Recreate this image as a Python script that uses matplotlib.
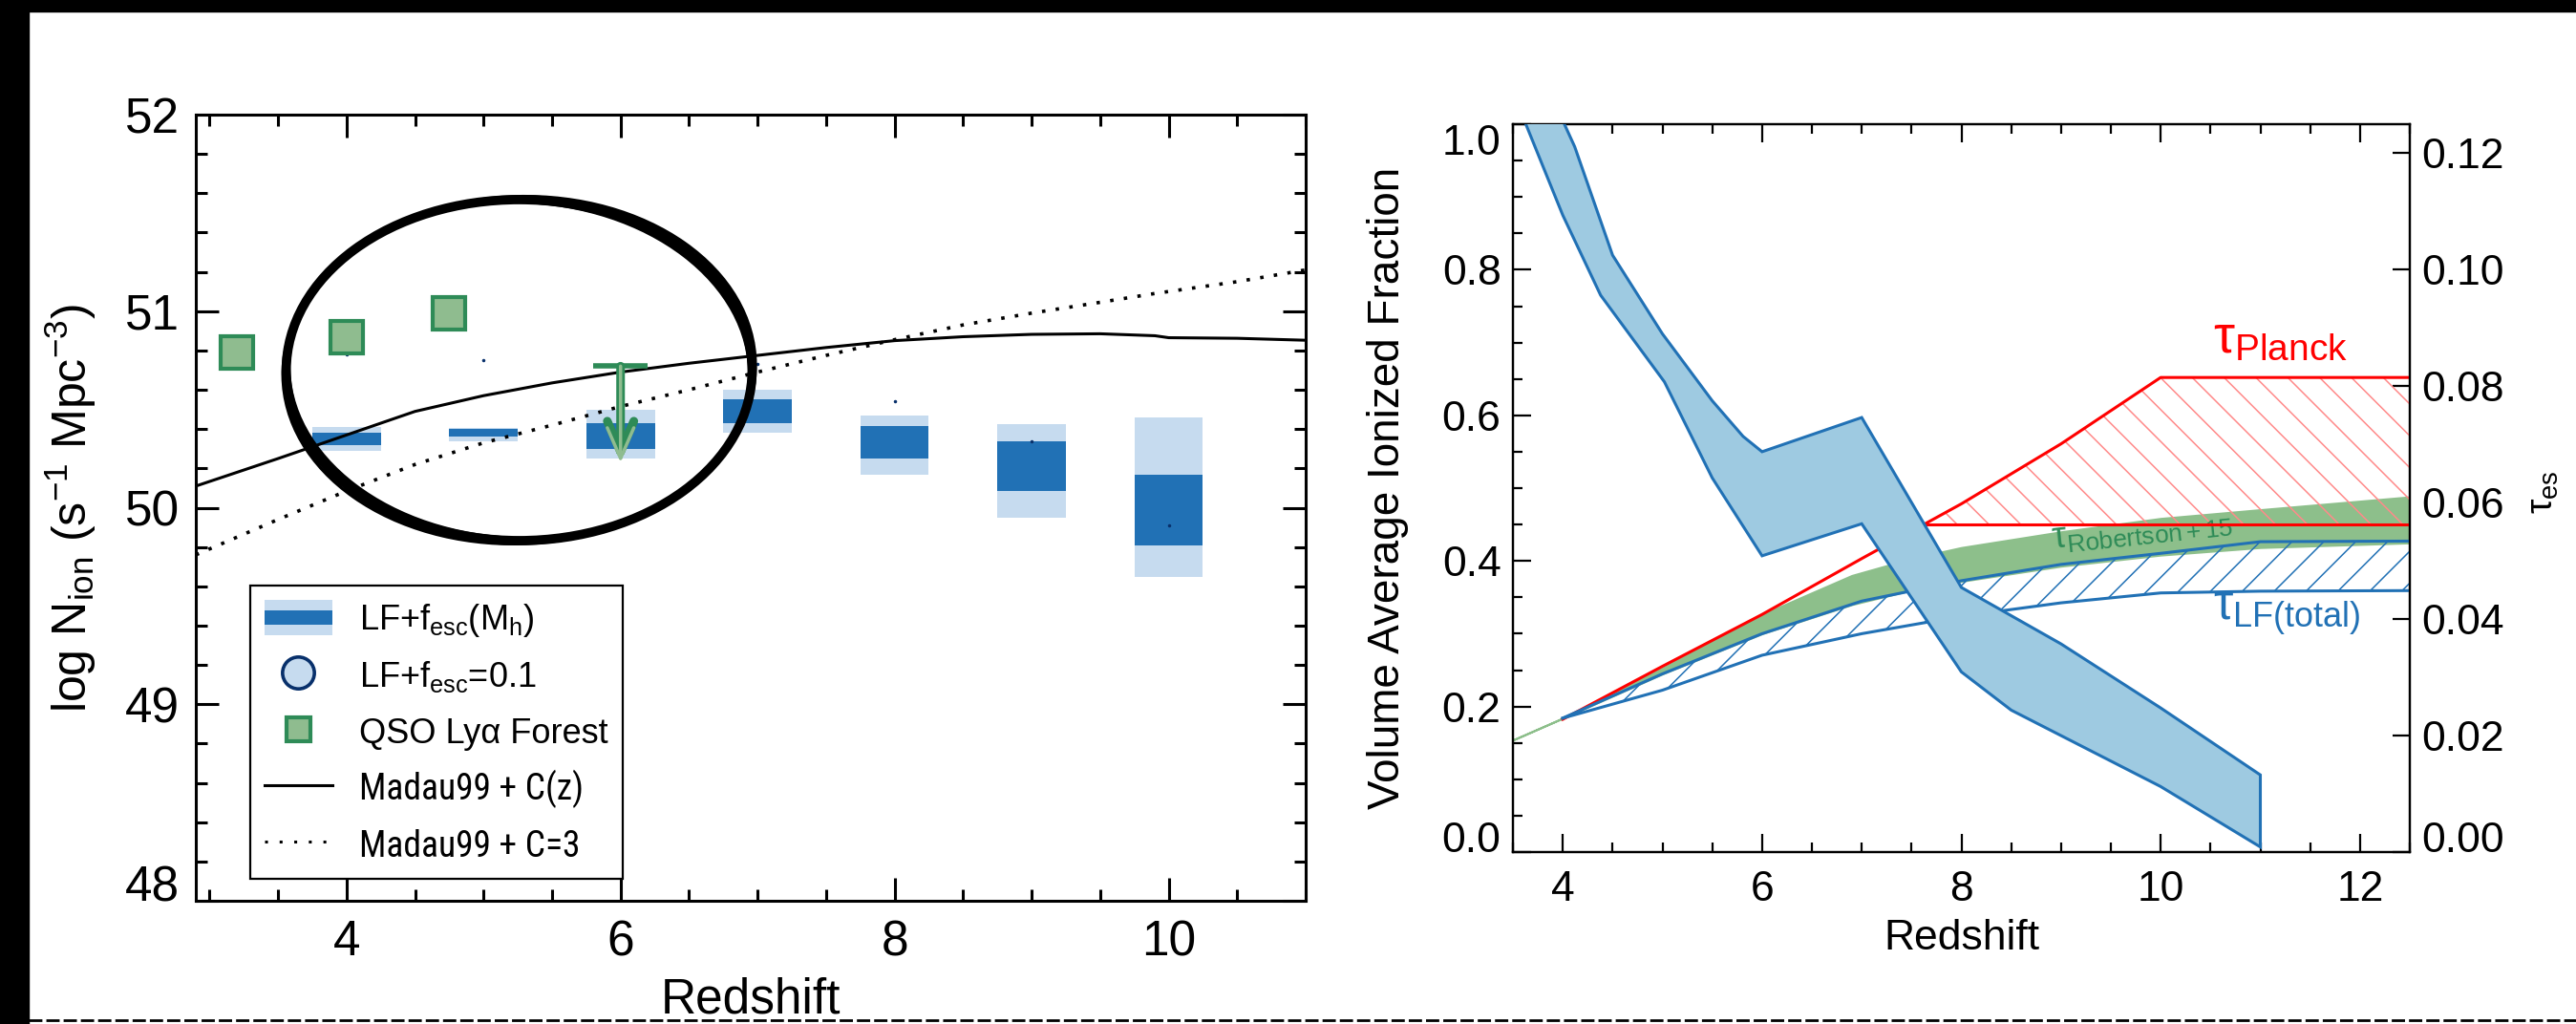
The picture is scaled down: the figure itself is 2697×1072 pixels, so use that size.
import numpy as np
import matplotlib
matplotlib.use('Agg')
import matplotlib.pyplot as plt
from matplotlib.patches import Ellipse, Patch, Rectangle
from matplotlib.lines import Line2D
from matplotlib.legend_handler import HandlerBase
from matplotlib.ticker import MultipleLocator, FixedLocator, FormatStrFormatter
from matplotlib import font_manager as fm

# ------------------------------------------------------------------ fonts
names = {f.name for f in fm.fontManager.ttflist}
MAIN = 'Liberation Sans' if 'Liberation Sans' in names else 'DejaVu Sans'
NARROW = None
for cand in ['Liberation Sans Narrow', 'DejaVu Sans Condensed', 'Roboto Condensed',
             'Open Sans Condensed', 'Noto Sans Condensed']:
    if cand in names:
        NARROW = cand
        break
plt.rcParams['font.family'] = [MAIN, 'DejaVu Sans']
plt.rcParams['mathtext.fontset'] = 'custom'
plt.rcParams['mathtext.rm'] = MAIN
plt.rcParams['mathtext.it'] = MAIN + ':italic'
plt.rcParams['mathtext.bf'] = MAIN + ':bold'
plt.rcParams['mathtext.default'] = 'regular'
plt.rcParams['hatch.linewidth'] = 1.1

# ------------------------------------------------------------------ data (left panel)
z_box = [4, 5, 6, 7, 8, 9, 10]
box_outer_lo = [50.29, 50.34, 50.25, 50.38, 50.17, 49.95, 49.65]
box_outer_hi = [50.41, 50.405, 50.50, 50.60, 50.47, 50.425, 50.46]
box_inner_lo = [50.32, 50.36, 50.30, 50.43, 50.25, 50.085, 49.81]
box_inner_hi = [50.38, 50.40, 50.43, 50.55, 50.415, 50.34, 50.17]
fesc01 = [50.78, 50.75, 50.655, 50.73, 50.54, 50.34, 49.91]

z_qso = [3.2, 4.0, 4.75]
qso = [50.79, 50.866, 50.99]

ul_z = 6.0
ul_top = 50.72
ul_bottom = 50.23

z_madau = [2.9, 3.5, 4.0, 4.5, 5.0, 5.5, 6.0, 6.5, 7.0, 7.5, 8.0, 8.5, 9.0, 9.5, 9.9, 10.0, 10.5, 11.0]
madau_cz = [50.11, 50.25, 50.37, 50.49, 50.57, 50.635, 50.69, 50.735, 50.775, 50.815, 50.85, 50.87,
            50.882, 50.885, 50.875, 50.865, 50.862, 50.852]
madau_c3 = [49.76, 49.94, 50.085, 50.22, 50.33, 50.42, 50.515, 50.60, 50.69, 50.775, 50.855, 50.93,
            50.99, 51.045, 51.09, 51.10, 51.15, 51.21]

ellipse_center = (5.26, 50.70)
ellipse_w, ellipse_h = 3.40, 1.735

# ------------------------------------------------------------------ data (right panel)
z_xi_up = [3.95, 4.12, 4.5, 5.0, 5.5, 5.81, 6.0, 7.0, 8.0, 9.0, 10.0, 11.0]
xi_up = [1.02, 0.969, 0.82, 0.712, 0.62, 0.571, 0.55, 0.597, 0.3635, 0.286, 0.198, 0.106]
z_xi_lo = [3.6, 4.0, 4.38, 5.02, 5.5, 6.0, 7.0, 8.0, 8.5, 9.0, 10.0, 11.0]
xi_lo = [1.01, 0.875, 0.765, 0.646, 0.514, 0.407, 0.451, 0.2475, 0.195, 0.16, 0.09, 0.007]

z_planck = [4, 5, 6, 7, 8, 9, 10, 12.5]
tau_planck_hi = [0.0228, 0.0319, 0.0408, 0.0504, 0.0598, 0.0701, 0.0815, 0.0815]
tau_planck_lo = 0.0563

z_rob = [3.5, 4, 5, 6, 6.9, 7.5, 8, 9, 10, 11, 12.5]
tau_rob_hi = [0.01925, 0.0230, 0.0316, 0.0408, 0.0475, 0.0504, 0.0523, 0.0550, 0.0573, 0.0588, 0.0610]
tau_rob_lo = [0.01925, 0.0230, 0.0306, 0.0375, 0.0425, 0.0450, 0.0465, 0.0491, 0.0510, 0.0523, 0.0531]

z_lf = [4, 5, 6, 7, 8, 9, 10, 11, 12.5]
tau_lf_hi = [0.0230, 0.0306, 0.0375, 0.0431, 0.0466, 0.0494, 0.0513, 0.0533, 0.0534]
tau_lf_lo = [0.0230, 0.0278, 0.0338, 0.0375, 0.0405, 0.0428, 0.0445, 0.0448, 0.0449]

# ------------------------------------------------------------------ colours
C_LIGHT = '#c6dbef'
C_DARK = '#2171b5'
C_NAVY = '#08306b'
C_GFACE = '#8fbc8f'
C_GEDGE = '#2e8b57'
C_BAND = '#9ecae1'
C_ROB = '#8dbf8b'

W, H = 2697, 1072
fig = plt.figure(figsize=(W / 100, H / 100), dpi=100)


def frac(x0, y0, x1, y1):
    return [x0 / W, 1 - y1 / H, (x1 - x0) / W, (y1 - y0) / H]


class TwoToneHandler(HandlerBase):
    def create_artists(self, legend, orig_handle, xdescent, ydescent, width, height,
                       fontsize, trans):
        light = Rectangle((-xdescent, -ydescent), width, height, fc=C_LIGHT, ec='none',
                          transform=trans)
        dh = 0.42 * height
        dark = Rectangle((-xdescent, -ydescent + (height - dh) / 2), width, dh, fc=C_DARK,
                         ec='none', transform=trans)
        return [light, dark]


# ================================================================== left panel
axL = fig.add_axes(frac(205, 120, 1367, 943))
axL.bar(z_box, np.subtract(box_outer_hi, box_outer_lo), bottom=box_outer_lo, width=0.5,
        color=C_LIGHT, zorder=2)
axL.bar(z_box, np.subtract(box_inner_hi, box_inner_lo), bottom=box_inner_lo, width=0.5,
        color=C_DARK, zorder=3)
axL.plot(z_madau, madau_cz, color='k', lw=2.2, zorder=4)
axL.plot(z_madau, madau_c3, color='k', lw=2.6, ls=(0, (1, 3)), zorder=4)
axL.plot(z_box, fesc01, 'o', ms=1.5, color=C_NAVY, zorder=5)
axL.plot(z_qso, qso, 's', ms=24, mfc=C_GFACE, mec=C_GEDGE, mew=3, zorder=5)

# upper limit
axL.plot([ul_z - 0.2, ul_z + 0.2], [ul_top, ul_top], color=C_GEDGE, lw=4, zorder=6,
         solid_capstyle='butt')
for lw, col in [(6.5, C_GEDGE), (2.5, C_GFACE)]:
    axL.annotate('', xy=(ul_z, ul_bottom), xytext=(ul_z, ul_top),
                 arrowprops=dict(arrowstyle='->,head_length=2.3,head_width=1.0', color=col, lw=lw,
                                 shrinkA=0, shrinkB=0), zorder=6)

# hand-drawn ellipse
axL.add_patch(Ellipse(ellipse_center, ellipse_w, ellipse_h, fill=False, ec='k', lw=7, zorder=7))
axL.add_patch(Ellipse(ellipse_center, ellipse_w * 1.014, ellipse_h * 1.018, angle=1.0, fill=False,
                      ec='k', lw=2.5, zorder=7))
axL.add_patch(Ellipse(ellipse_center, ellipse_w * 0.988, ellipse_h * 0.985, angle=-1.0, fill=False,
                      ec='k', lw=2.0, zorder=7))

axL.set_xlim(2.9, 11.0)
axL.set_ylim(48, 52)
axL.xaxis.set_major_locator(FixedLocator([4, 6, 8, 10]))
axL.xaxis.set_minor_locator(MultipleLocator(0.5))
axL.yaxis.set_major_locator(FixedLocator([48, 49, 50, 51, 52]))
axL.yaxis.set_minor_locator(MultipleLocator(0.2))
axL.tick_params(which='both', direction='in', top=True, right=True, width=2.2, labelsize=37)
axL.tick_params(which='major', length=17)
axL.tick_params(which='minor', length=8.5)
axL.tick_params(axis='y', pad=12)
axL.tick_params(axis='x', pad=14)
for s in axL.spines.values():
    s.set_linewidth(2.2)
yt = axL.yaxis.get_major_ticks()
yt[0].label1.set_va('baseline')

axL.set_xlabel('Redshift', fontsize=37)
axL.xaxis.set_label_coords(0.5, -0.097)
axL.set_ylabel(r'log N$_{\rm ion}$ (s$^{-1}$ Mpc$^{-3}$)', fontsize=36)
axL.yaxis.set_label_coords(-0.088, 0.5)

lf_handle = Patch(facecolor=C_DARK)
handles = [
    lf_handle,
    Line2D([], [], marker='o', ls='none', ms=24, mfc=C_LIGHT, mec=C_NAVY, mew=2.6),
    Line2D([], [], marker='s', ls='none', ms=18, mfc=C_GFACE, mec=C_GEDGE, mew=3),
    Line2D([], [], color='k', lw=2.2),
    Line2D([], [], color='k', lw=2.2, ls=(0, (1, 4))),
]
labels = [r'LF+f$_{\rm esc}$(M$_{\rm h}$)', r'LF+f$_{\rm esc}$=0.1', 'QSO Ly\u03b1 Forest',
          'Madau99 + C(z)', 'Madau99 + C=3']
leg = axL.legend(handles, labels, handler_map={lf_handle: TwoToneHandler()},
                 loc='upper left', bbox_to_anchor=(0.049, 0.401), borderaxespad=0,
                 fontsize=26, handleheight=1.2, handlelength=1.95, handletextpad=0.8,
                 labelspacing=0.55, borderpad=0.42, fancybox=False, framealpha=1,
                 edgecolor='k')
leg.get_frame().set_linewidth(1.6)
leg.set_zorder(8)
for t in leg.get_texts()[3:]:
    if NARROW is not None:
        t.set_fontfamily(NARROW)
        t.set_fontsize(27)
    else:
        t.set_fontsize(24)

# ================================================================== right panel
axR = fig.add_axes(frac(1584, 130, 2523, 892))
ax2 = axR.twinx()
axR.set_zorder(ax2.get_zorder() + 1)
axR.patch.set_visible(False)

# tau curves (on tau axis)
ax2.fill_between(z_rob, tau_rob_lo, tau_rob_hi, facecolor=C_ROB, edgecolor=C_ROB, lw=1.5,
                 zorder=2)
ax2.fill_between(z_planck, tau_planck_lo, tau_planck_hi,
                 where=np.array(tau_planck_hi) >= tau_planck_lo, interpolate=True,
                 facecolor='none', edgecolor='#ff8a8a', hatch='\\', lw=0, zorder=3)
z_cross = np.interp(tau_planck_lo, tau_planck_hi[:-1], z_planck[:-1])
ax2.plot(z_planck, tau_planck_hi, color='red', lw=2.2, zorder=4)
ax2.plot([z_cross, z_planck[-1]], [tau_planck_lo, tau_planck_lo], color='red', lw=2.2, zorder=4)
ax2.fill_between(z_lf, tau_lf_lo, tau_lf_hi, facecolor='none', edgecolor=C_DARK, hatch='/',
                 lw=0, zorder=3)
ax2.plot(z_lf, tau_lf_hi, color=C_DARK, lw=2.2, zorder=4)
ax2.plot(z_lf, tau_lf_lo, color=C_DARK, lw=2.2, zorder=4)

ax2.text(10.53, 0.0858, r'$\tau_{\rm Planck}$', color='red', fontsize=40, ha='left', va='baseline')
ax2.text(10.53, 0.0399, r'$\tau_{\rm LF(total)}$', color=C_DARK, fontsize=37, ha='left',
         va='baseline')
ax2.text(8.92, 0.0520, r'$\tau_{\rm Robertson+15}$', color=C_GEDGE, fontsize=27, ha='left',
         va='baseline', rotation=6, rotation_mode='anchor')

# ionized fraction band
axR.fill(np.concatenate([z_xi_up, z_xi_lo[::-1]]), np.concatenate([xi_up, xi_lo[::-1]]),
         fc=C_BAND, ec=C_DARK, lw=2.2, zorder=5)

axR.set_xlim(3.5, 12.5)
axR.set_ylim(0, 1)
ax2.set_ylim(0, 0.125)
axR.xaxis.set_major_locator(FixedLocator([4, 6, 8, 10, 12]))
axR.xaxis.set_minor_locator(MultipleLocator(0.5))
axR.yaxis.set_major_locator(FixedLocator([0, 0.2, 0.4, 0.6, 0.8, 1.0]))
axR.yaxis.set_minor_locator(MultipleLocator(0.05))
axR.yaxis.set_major_formatter(FormatStrFormatter('%.1f'))
axR.tick_params(which='both', direction='in', top=True, right=False, left=True, width=1.6,
                labelsize=32)
axR.tick_params(which='major', length=14)
axR.tick_params(which='minor', length=7)
axR.tick_params(axis='y', pad=9)
axR.tick_params(axis='x', pad=14)
ax2.yaxis.set_major_locator(FixedLocator([0, 0.02, 0.04, 0.06, 0.08, 0.10, 0.12]))
ax2.yaxis.set_minor_locator(FixedLocator([]))
ax2.yaxis.set_major_formatter(FormatStrFormatter('%.2f'))
ax2.tick_params(which='major', direction='in', length=13, width=1.6, labelsize=32, pad=9)
for a in (axR, ax2):
    for s in a.spines.values():
        s.set_linewidth(1.6)
rt = axR.yaxis.get_major_ticks()
rt[0].label1.set_va('baseline')
rt[-1].label1.set_va('top')
r2 = ax2.yaxis.get_major_ticks()
r2[0].label2.set_va('baseline')

axR.set_xlabel('Redshift', fontsize=32)
axR.xaxis.set_label_coords(0.5, -0.092)
axR.set_ylabel('Volume Average Ionized Fraction', fontsize=33)
axR.yaxis.set_label_coords(-0.116, 0.5)
ax2.text(1.149, 0.495, r'$\tau_{\rm es}$', rotation=90, ha='center', va='center', fontsize=28,
         transform=ax2.transAxes)

# ================================================================== frame decorations
fig.add_artist(Rectangle((0, 0), 30 / W, 1, transform=fig.transFigure, color='k', zorder=10))
fig.add_artist(Rectangle((0, 1 - 12 / H), 1, 12 / H, transform=fig.transFigure, color='k',
                         zorder=10))
fig.add_artist(Line2D([30 / W, 1], [1 - 1068 / H, 1 - 1068 / H], transform=fig.transFigure,
                      color='k', lw=2, dashes=(5, 1.5), zorder=10))

fig.savefig('out.png', dpi=100)
